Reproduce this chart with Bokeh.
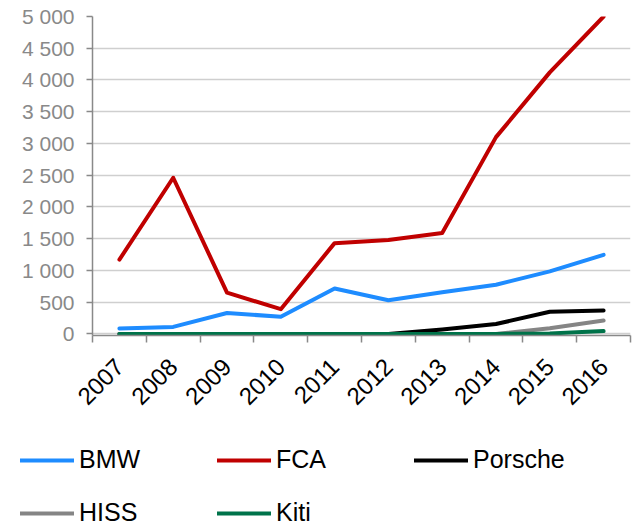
from math import pi
from bokeh.plotting import figure
from bokeh.layouts import column
from bokeh.models import FixedTicker, Legend, LegendItem, Range1d
from bokeh.embed import file_html
from bokeh.resources import INLINE

years = ["2007", "2008", "2009", "2010", "2011", "2012", "2013", "2014", "2015", "2016"]
bmw = [85, 110, 330, 270, 715, 530, 655, 775, 985, 1245]
fca = [1170, 2460, 650, 390, 1430, 1480, 1590, 3100, 4120, 5000]
porsche = [0, 0, 0, 0, 0, 0, 70, 155, 350, 370]
hiss = [0, 0, 0, 0, 0, 0, 0, 0, 90, 210]
kiti = [0, 0, 0, 0, 0, 0, 0, 0, 5, 45]
y_ticks = [0, 500, 1000, 1500, 2000, 2500, 3000, 3500, 4000, 4500, 5000]
y_tick_labels = ["0", "500", "1 000", "1 500", "2 000", "2 500", "3 000", "3 500", "4 000", "4 500", "5 000"]

series = [
    ("BMW", bmw, "#1E8CFF"),
    ("FCA", fca, "#C00000"),
    ("Porsche", porsche, "#000000"),
    ("HISS", hiss, "#858585"),
    ("Kiti", kiti, "#00734A"),
]

FONT = "Liberation Sans"
n = len(years)
xs = [i + 0.5 for i in range(n)]

p = figure(
    frame_width=538, frame_height=319,
    min_border_left=92, min_border_right=6, min_border_top=16, min_border_bottom=90,
    x_range=Range1d(0, n), y_range=Range1d(-25, 5000),
    output_backend="svg", toolbar_location=None,
)
p.outline_line_color = None
p.background_fill_color = "white"
p.border_fill_color = "white"

for name, vals, color in series:
    p.line(xs, vals, line_color=color, line_width=4, line_cap="round", line_join="round")

# x axis
xa = p.xaxis[0]
xa.ticker = FixedTicker(ticks=xs, minor_ticks=list(range(n + 1)))
xa.major_label_overrides = {x: y for x, y in zip(xs, years)}
xa.major_tick_line_color = None
xa.minor_tick_line_color = "#898989"
xa.minor_tick_line_width = 1.5
xa.minor_tick_out = 7
xa.minor_tick_in = 0
xa.axis_line_color = "#898989"
xa.axis_line_width = 1.5
xa.major_label_orientation = pi / 4
xa.major_label_text_font = FONT
xa.major_label_text_font_size = "24px"
xa.major_label_text_color = "#000000"
xa.major_label_standoff = 20

# y axis
ya = p.yaxis[0]
ya.ticker = FixedTicker(ticks=y_ticks)
ya.major_label_overrides = {t: l for t, l in zip(y_ticks, y_tick_labels)}
ya.minor_tick_line_color = None
ya.major_tick_out = 6
ya.major_tick_in = 0
ya.major_tick_line_color = "#898989"
ya.major_tick_line_width = 1.5
ya.axis_line_color = "#898989"
ya.axis_line_width = 1.5
ya.major_label_text_font = FONT
ya.major_label_text_font_size = "21px"
ya.major_label_text_color = "#898989"
ya.major_label_standoff = 12

p.xgrid.grid_line_color = None
p.ygrid.grid_line_color = "#cfcfcf"
p.ygrid.grid_line_width = 1.5

# legend strip below the chart (its ranges keep the series lines out of view)
pl = figure(
    frame_width=636, frame_height=102,
    min_border_left=0, min_border_right=0, min_border_top=0, min_border_bottom=0,
    x_range=Range1d(0, 1), y_range=Range1d(-2, -1),
    x_axis_location=None, y_axis_location=None,
    output_backend="svg", toolbar_location=None,
)
pl.outline_line_color = None
pl.xgrid.visible = False
pl.ygrid.visible = False
items = []
for name, vals, color in series:
    r = pl.line(xs, vals, line_color=color, line_width=4, line_cap="round")
    items.append(LegendItem(label=name, renderers=[r]))

legend = Legend(
    items=items,
    ncols=3,
    location=(20, 0),
    orientation="horizontal",
    glyph_width=54,
    glyph_height=20,
    label_standoff=5,
    label_width=114,
    label_height=20,
    spacing=24,
    padding=0,
    margin=0,
    border_line_color=None,
    background_fill_alpha=0,
    label_text_font=FONT,
    label_text_font_size="25px",
    label_text_color="#000000",
)
pl.add_layout(legend, "center")

layout = column(p, pl, spacing=0)
open("out.html", "w").write(file_html(layout, INLINE))
